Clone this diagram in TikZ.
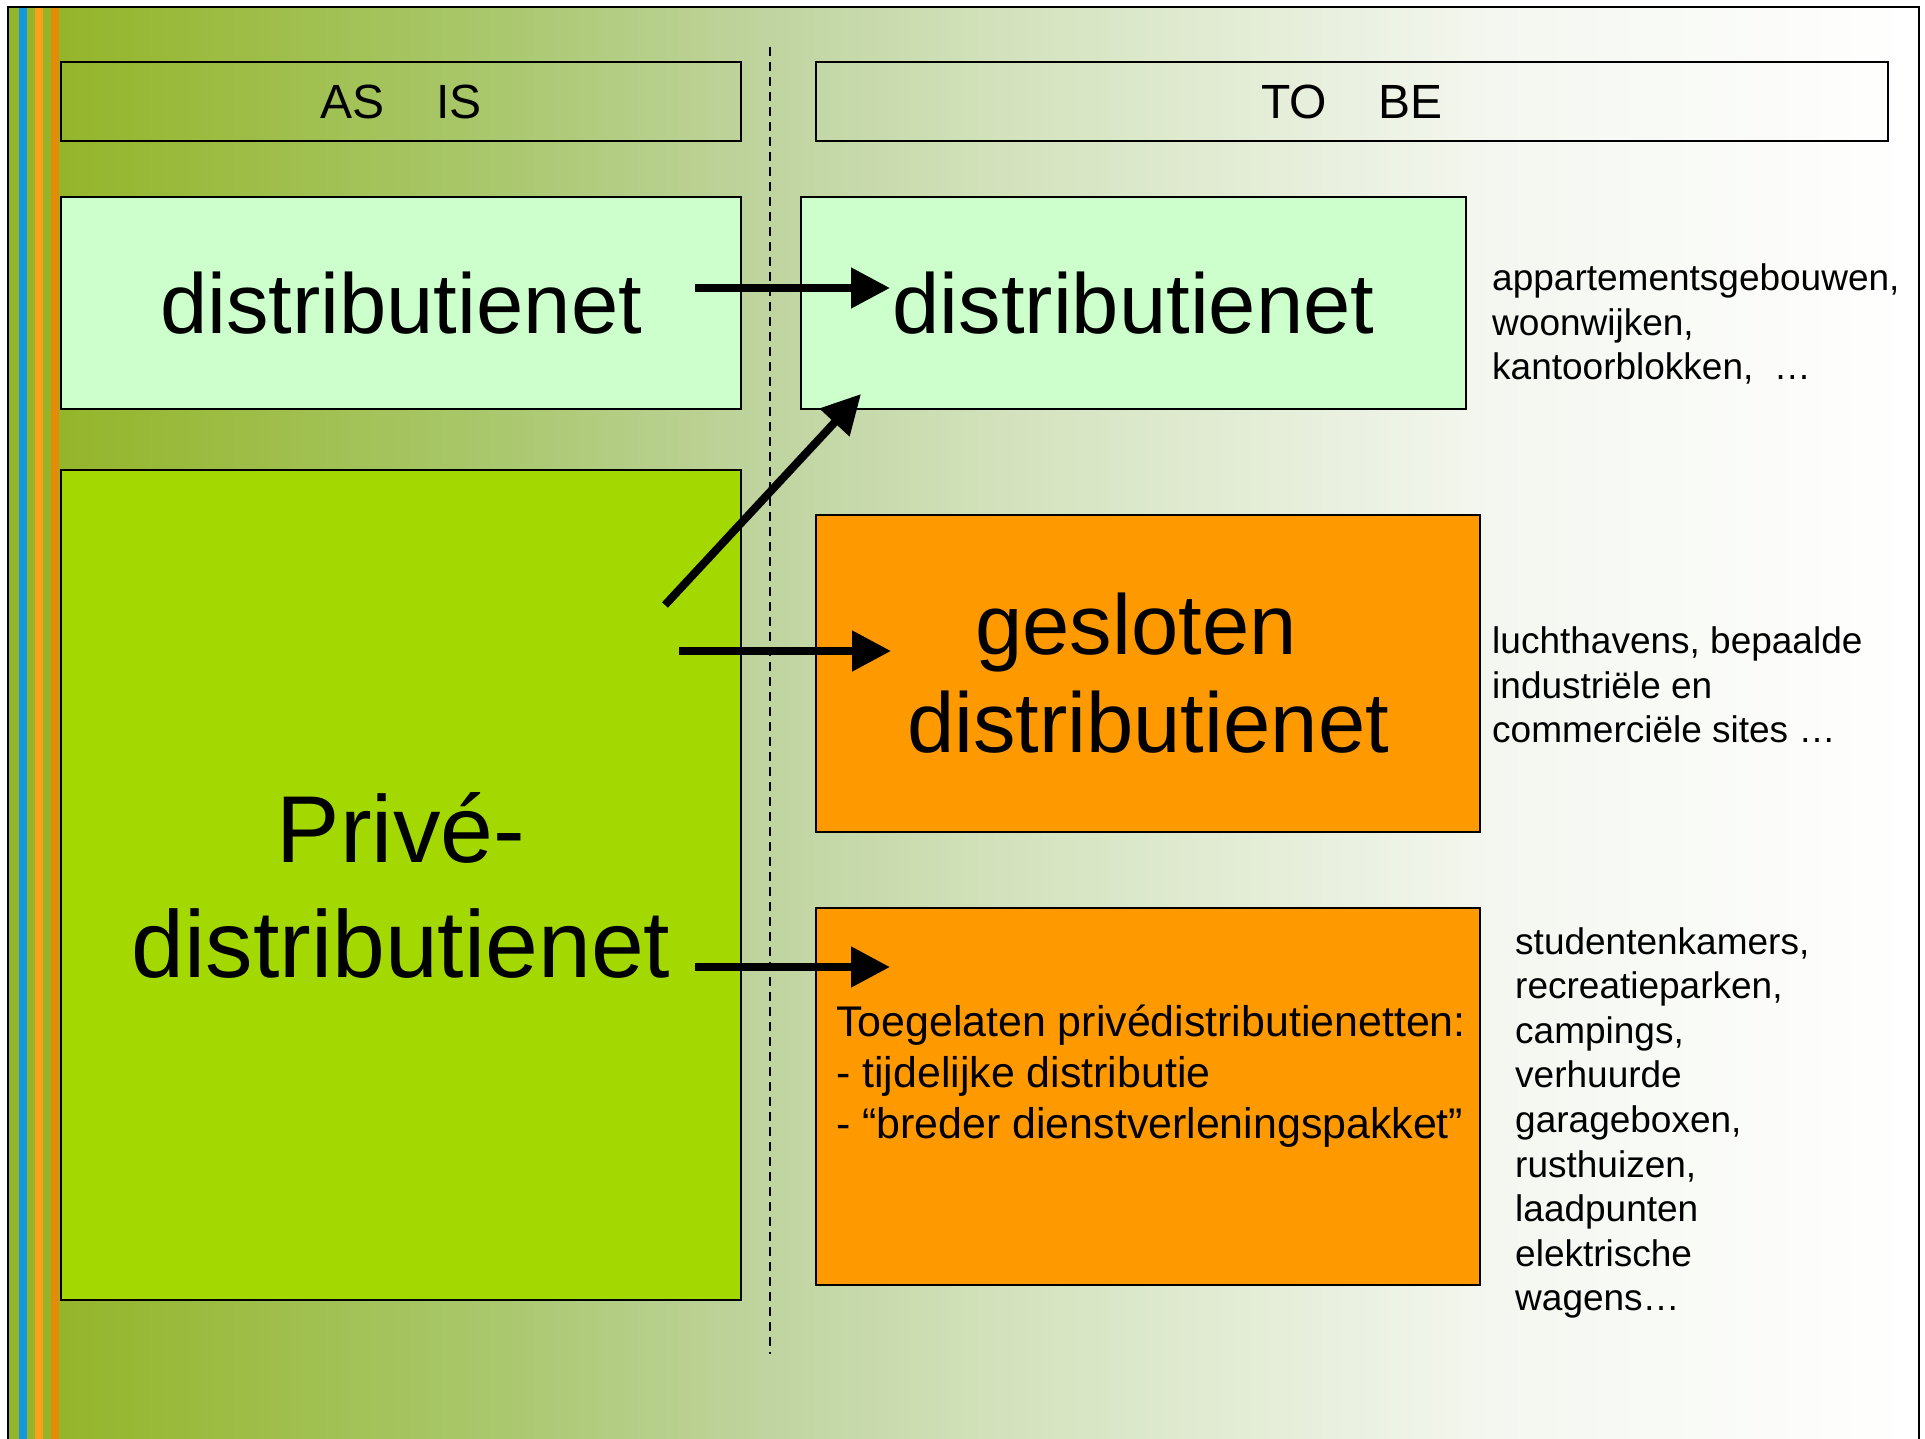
\documentclass[tikz,border=0pt]{standalone}
\usepackage{fontspec}
\setmainfont{Liberation Sans}
\usetikzlibrary{arrows.meta}
\definecolor{bgA}{RGB}{148,181,42}
\definecolor{bgB}{RGB}{170,200,110}
\definecolor{bgC}{RGB}{192,212,160}
\definecolor{bgD}{RGB}{212,227,190}
\definecolor{bgE}{RGB}{244,247,240}
\definecolor{stripeBlue}{RGB}{18,152,220}
\definecolor{stripeOrange}{RGB}{250,160,25}
\definecolor{stripeDark}{RGB}{228,140,5}
\definecolor{paleGreen}{RGB}{204,255,204}
\definecolor{limeGreen}{RGB}{163,217,0}
\definecolor{boxOrange}{RGB}{255,153,0}
\pgfdeclarehorizontalshading{bgshade}{100bp}{color(0bp)=(bgA); color(25bp)=(bgA); color(36.85bp)=(bgB); color(44.1bp)=(bgC); color(50.8bp)=(bgD); color(63.7bp)=(bgE); color(75bp)=(white); color(100bp)=(white)}
\tikzset{
  box/.style={draw=black, line width=2pt, inner sep=0pt, anchor=north west, align=center},
  bigtext/.style={font=\fontsize{85}{98}\selectfont},
  sidetext/.style={inner sep=0pt, anchor=west, align=left, font=\fontsize{37}{44.6}\selectfont},
  arr/.style={line width=8pt, -{Triangle[length=39pt,width=39pt]}},
}
\begin{document}
\begin{tikzpicture}[x=1pt,y=-1pt]
\useasboundingbox (0,0) rectangle (1925,1439);
% background
\fill[white] (0,0) rectangle (1925,1439);
\shade[shading=bgshade] (59,7) rectangle (1919,1439);
\fill[bgA] (8,7) rectangle (59,1439);
\fill[stripeBlue] (19,7) rectangle (27,1439);
\fill[stripeOrange] (35,7) rectangle (43,1439);
\fill[stripeDark] (51,7) rectangle (59,1439);
\draw[line width=2pt] (8,1445) -- (8,7) -- (1919,7) -- (1919,1445);
% dashed divider
\coordinate (dtop) at (770,47);
\coordinate (dbot) at (770,1354);
\draw[line width=2pt, dash pattern=on 9pt off 6pt] (dtop) -- (dbot);
% headers
\node[box, minimum width=680pt, minimum height=79pt, font=\fontsize{48}{56}\selectfont] (asis) at (60,61) {AS\hspace{52pt}IS};
\node[box, minimum width=1072pt, minimum height=79pt, font=\fontsize{48}{56}\selectfont] (tobe) at (815,61) {TO\hspace{52pt}BE};
% boxes
\node[box, fill=paleGreen, bigtext, minimum width=680pt, minimum height=212pt] (distL) at (60,196) {distributienet};
\node[box, fill=paleGreen, bigtext, minimum width=665pt, minimum height=212pt] (distR) at (800,196) {distributienet};
\node[box, fill=limeGreen, font=\fontsize{95}{115}\selectfont, minimum width=680pt, minimum height=830pt] (prive) at (60,469) {Privé-\\distributienet};
\node[box, fill=boxOrange, bigtext, minimum width=664pt, minimum height=317pt] (gesl) at (815,514) {gesloten\rule{24pt}{0pt}\\distributienet};
\node[box, fill=boxOrange, minimum width=664pt, minimum height=377pt] (toeg) at (815,907) {};
\node[inner sep=0pt, anchor=west, align=left, font=\fontsize{42.9}{51}\selectfont] (toegtext) at (836,1076) {Toegelaten privédistributienetten:\\- tijdelijke distributie\\- “breder dienstverleningspakket”};
% side texts
\node[sidetext] (side1) at (1492,324) {appartementsgebouwen,\\woonwijken,\\kantoorblokken,\ \ …};
\node[sidetext] (side2) at (1492,685) {luchthavens, bepaalde\\industriële en\\commerciële sites …};
\node[sidetext] (side3) at (1515,1123) {studentenkamers,\\recreatieparken,\\campings,\\verhuurde\\garageboxen,\\rusthuizen,\\laadpunten\\elektrische\\wagens…};
% arrows
\coordinate (a1s) at (695,288);
\coordinate (a1e) at (890,288);
\coordinate (a2s) at (665,605);
\coordinate (a2e) at (861,394);
\coordinate (a3s) at (679,651);
\coordinate (a3e) at (891,651);
\coordinate (a4s) at (695,967);
\coordinate (a4e) at (890,967);
\draw[arr] (a1s) -- (a1e);
\draw[arr] (a2s) -- (a2e);
\draw[arr] (a3s) -- (a3e);
\draw[arr] (a4s) -- (a4e);
\end{tikzpicture}
\end{document}
